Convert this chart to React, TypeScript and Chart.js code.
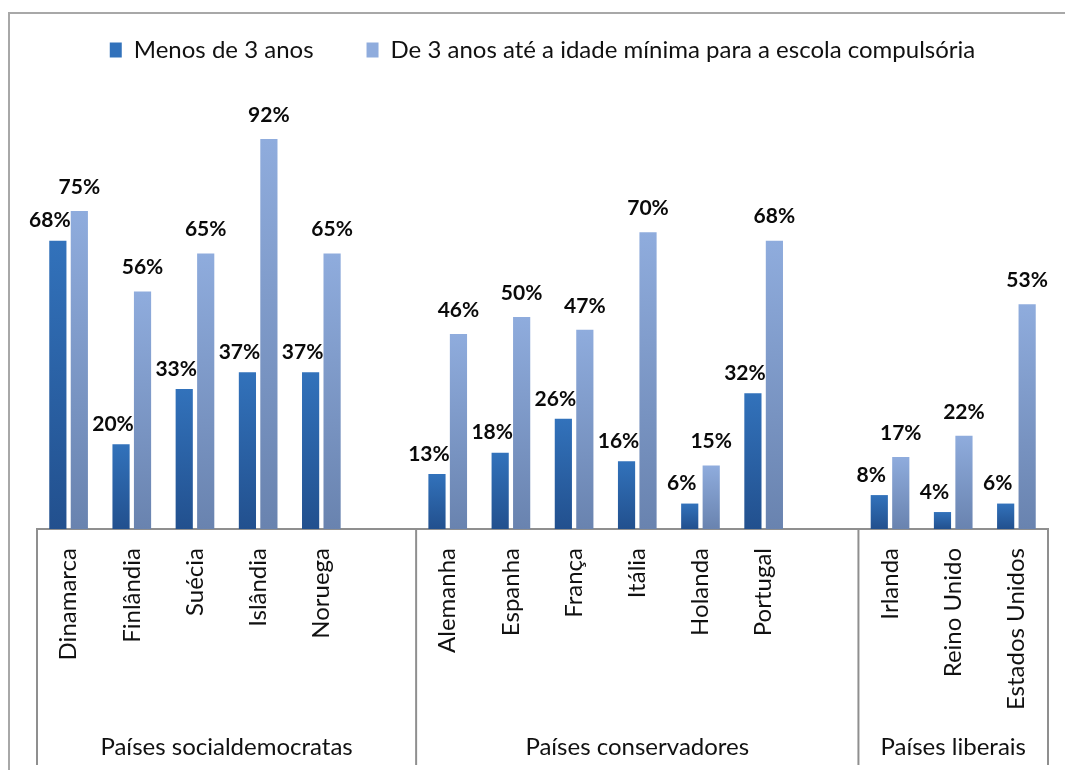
import React, { useEffect, useRef } from "react";
import { Chart, registerables } from "chart.js";

Chart.register(...registerables);

const categories = [
  "Dinamarca", "Finlândia", "Suécia", "Islândia", "Noruega", "",
  "Alemanha", "Espanha", "França", "Itália", "Holanda", "Portugal", "",
  "Irlanda", "Reino Unido", "Estados Unidos",
];
const seriesUnder3 = [68, 20, 33, 37, 37, null, 13, 18, 26, 16, 6, 32, null, 8, 4, 6];
const seriesOver3 = [75, 56, 65, 92, 65, null, 46, 50, 47, 70, 15, 68, null, 17, 22, 53];
const seriesNames = [
  "Menos de 3 anos",
  "De 3 anos até a idade mínima para a escola compulsória",
];
const groupNames = ["Países socialdemocratas", "Países conservadores", "Países liberais"];
const groupSizes = [6, 7, 3];

const FONT = "Lato, 'Open Sans', sans-serif";
const GREY = "#8f8f8f";

function gradientFill(top: string, bottom: string) {
  return (ctx: any) => {
    const chart = ctx.chart;
    const y = chart.scales && chart.scales.y;
    const raw = ctx.raw;
    if (!y || raw == null || ctx.type !== "data") return top;
    const y0 = y.getPixelForValue(raw);
    const y1 = y.getPixelForValue(0);
    if (!isFinite(y0) || !isFinite(y1) || y0 === y1) return top;
    const g = chart.ctx.createLinearGradient(0, y0, 0, y1);
    g.addColorStop(0, top);
    g.addColorStop(1, bottom);
    return g;
  };
}

const valueLabels = {
  id: "valueLabels",
  afterDatasetsDraw(chart: any) {
    const ctx = chart.ctx;
    ctx.save();
    ctx.font = `bold 21px ${FONT}`;
    ctx.fillStyle = "#0a0a0a";
    ctx.textAlign = "center";
    ctx.textBaseline = "middle";
    chart.data.datasets.forEach((ds: any, di: number) => {
      const meta = chart.getDatasetMeta(di);
      const dx = di === 0 ? -8 : 0;
      const dy = di === 0 ? 20 : 24;
      meta.data.forEach((el: any, i: number) => {
        const v = ds.data[i];
        if (v == null) return;
        ctx.fillText(`${v}%`, el.x + dx, el.y - dy);
      });
    });
    ctx.restore();
  },
};

const groupAxis = {
  id: "groupAxis",
  afterDraw(chart: any) {
    const x = chart.scales.x;
    const area = chart.chartArea;
    const ctx = chart.ctx;
    const step = x.getPixelForValue(1) - x.getPixelForValue(0);
    const edge = (i: number) => x.getPixelForValue(i) - step / 2;
    const bounds = [0];
    groupSizes.forEach((s) => bounds.push(bounds[bounds.length - 1] + s));
    ctx.save();
    ctx.strokeStyle = GREY;
    ctx.lineWidth = 2;
    bounds.forEach((b) => {
      const px = edge(b);
      ctx.beginPath();
      ctx.moveTo(px, area.bottom);
      ctx.lineTo(px, x.bottom);
      ctx.stroke();
    });
    ctx.font = `24px ${FONT}`;
    ctx.fillStyle = "#111111";
    ctx.textAlign = "center";
    ctx.textBaseline = "middle";
    groupNames.forEach((name, gi) => {
      const cx = (edge(bounds[gi]) + edge(bounds[gi + 1])) / 2;
      ctx.fillText(name, cx, x.bottom - 18);
    });
    ctx.restore();
  },
};

export default function App() {
  const ref = useRef<HTMLCanvasElement | null>(null);
  useEffect(() => {
    if (!ref.current) return;
    const chart = new Chart(ref.current, {
      type: "bar",
      data: {
        labels: categories,
        datasets: [
          {
            label: seriesNames[0],
            data: seriesUnder3,
            backgroundColor: gradientFill("#3272BB", "#22508E"),
            categoryPercentage: 0.68,
            barPercentage: 0.8,
          },
          {
            label: seriesNames[1],
            data: seriesOver3,
            backgroundColor: gradientFill("#8FACDD", "#6983AF"),
            categoryPercentage: 0.68,
            barPercentage: 0.8,
          },
        ],
      },
      options: {
        responsive: false,
        animation: false,
        layout: { padding: { top: -15, left: 37, right: 17, bottom: 5 } },
        plugins: {
          legend: {
            position: "top",
            labels: {
              boxWidth: 12,
              boxHeight: 15,
              padding: 53,
              color: "#111111",
              font: { family: FONT, size: 24 },
            },
          },
          tooltip: { enabled: false },
        },
        scales: {
          x: {
            grid: { display: false, drawTicks: false },
            border: { display: true, color: GREY, width: 2 },
            ticks: {
              autoSkip: false,
              minRotation: 90,
              maxRotation: 90,
              padding: 19,
              color: "#111111",
              font: { family: FONT, size: 24 },
            },
            afterFit: (s: any) => {
              s.height = 236;
            },
          },
          y: {
            display: false,
            min: 0,
            max: 107.8,
          },
        },
      },
      plugins: [valueLabels, groupAxis],
    });
    return () => chart.destroy();
  }, []);

  return (
    <div style={{ position: "fixed", left: 0, top: 0, width: 1065, height: 770, background: "#ffffff", overflow: "hidden" }}>
      <div
        style={{
          position: "absolute",
          left: 8,
          top: 12,
          width: 1100,
          height: 800,
          borderTop: "2px solid #a8a8a8",
          borderLeft: "2px solid #a8a8a8",
        }}
      />
      <canvas ref={ref} width={1065} height={770} style={{ position: "absolute", left: 0, top: 0 }} />
    </div>
  );
}
